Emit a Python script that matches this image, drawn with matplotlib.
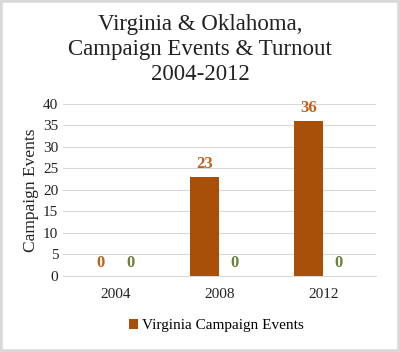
import numpy as np
import matplotlib.pyplot as plt
from matplotlib.patches import Rectangle

years = ["2004", "2008", "2012"]
virginia = [0, 23, 36]
oklahoma = [0, 0, 0]

va_color = "#a84f0a"
va_label_color = "#c0601a"
ok_color = "#6b7f3a"

plt.rcParams['font.family'] = ['Liberation Serif', 'DejaVu Serif']

fig = plt.figure(figsize=(4, 3.52), dpi=100)
ax = fig.add_axes([0.158, 0.216, 0.782, 0.489])

x = np.arange(len(years))
w = 0.28
b1 = ax.bar(x - 0.145, virginia, w, color=va_color, label="Virginia Campaign Events", zorder=3)
b2 = ax.bar(x + 0.145, oklahoma, w, color=ok_color, zorder=3)

for rect, v in zip(b1, virginia):
    ax.text(rect.get_x() + rect.get_width() / 2, v + 1.2, str(v), ha='center', va='bottom',
            fontsize=12, fontweight='bold', color=va_label_color)
for rect, v in zip(b2, oklahoma):
    ax.text(rect.get_x() + rect.get_width() / 2, v + 1.2, str(v), ha='center', va='bottom',
            fontsize=12, fontweight='bold', color=ok_color)

ax.set_xlim(-0.5, 2.5)
ax.set_ylim(0, 40)
ax.set_yticks(range(0, 41, 5))
ax.set_xticks(x)
ax.set_xticklabels(years)
ax.tick_params(length=0, labelsize=11, colors="#222222")
ax.tick_params(axis='x', pad=9)
ax.yaxis.grid(True, color="#d9d9d9", linewidth=0.8, zorder=0)
for s in ax.spines.values():
    s.set_visible(False)
ax.spines['bottom'].set_visible(True)
ax.spines['bottom'].set_color("#d9d9d9")
ax.set_ylabel("Campaign Events", fontsize=12.5, color="#222222", labelpad=3)

fig.text(0.5, 0.96, "Virginia & Oklahoma,\nCampaign Events & Turnout\n2004-2012",
         ha='center', va='top', fontsize=16.5, color="#222222", linespacing=1.25)

ax.legend(loc='upper center', bbox_to_anchor=(0.49, -0.17), frameon=False,
          fontsize=11, handlelength=0.6, handleheight=0.6, handletextpad=0.3)

fig.patches.append(Rectangle((0, 0), 1, 1, transform=fig.transFigure, fill=False,
                             edgecolor="#d9d9d9", linewidth=4))

fig.savefig("out.png", dpi=100)
